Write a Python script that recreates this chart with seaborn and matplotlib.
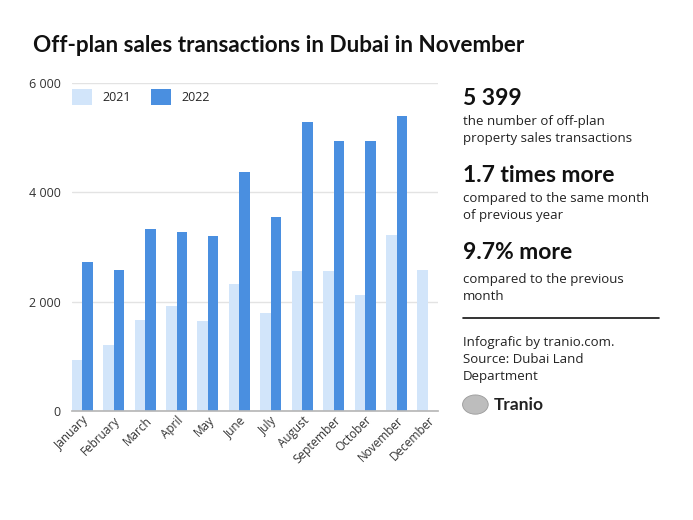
import numpy as np
import pandas as pd
import matplotlib.pyplot as plt
import seaborn as sns
from matplotlib.patches import Patch, Circle

sns.set_theme(style="white")
plt.rcParams['font.family'] = ['Open Sans', 'DejaVu Sans']

# data
months = ['January', 'February', 'March', 'April', 'May', 'June', 'July',
          'August', 'September', 'October', 'November', 'December']
sales_2021 = [930, 1210, 1670, 1915, 1640, 2330, 1790, 2550, 2560, 2120, 3210, 2575]
sales_2022 = [2715, 2575, 3335, 3265, 3195, 4365, 3545, 5275, 4930, 4930, 5399, np.nan]
years = ['2021', '2022']
colors = ['#d2e5fa', '#4a8fe0']

df = pd.DataFrame({
    'month': months * 2,
    'value': sales_2021 + sales_2022,
    'year': ['2021'] * 12 + ['2022'] * 12,
})

fig = plt.figure(figsize=(6.93, 5.2), dpi=100)
ax = fig.add_axes([0.1035, 0.2096, 0.529, 0.6313])

sns.barplot(data=df, x='month', y='value', hue='year', palette=colors,
            width=0.67, gap=0, saturation=1, linewidth=0, ax=ax, legend=False)

ax.set_ylim(0, 6000)
ax.set_xlim(-0.335, 11.33)
ax.set_yticks([0, 2000, 4000, 6000])
ax.set_yticklabels(['0', '2 000', '4 000', '6 000'])
ax.yaxis.grid(True, color='#e3e3e3', linewidth=1)
ax.set_axisbelow(True)
for s in ['top', 'right', 'left']:
    ax.spines[s].set_visible(False)
ax.spines['bottom'].set_color('#b8b8b8')
ax.set_xlabel('')
ax.set_ylabel('')
ax.tick_params(axis='y', length=0, labelsize=9, labelcolor='#333333', pad=8)
ax.tick_params(axis='x', length=0, labelsize=8.5, labelcolor='#333333', pad=2)
plt.setp(ax.get_xticklabels(), rotation=45, ha='right', rotation_mode='anchor')

handles = [Patch(facecolor=c, edgecolor='none') for c in colors]
ax.legend(handles, years, loc='upper left', bbox_to_anchor=(0.0, 0.981), ncol=2,
          frameon=False, fontsize=9, handlelength=1.65, handleheight=1.65,
          columnspacing=1.6, handletextpad=0.8, borderaxespad=0, borderpad=0)

bold = ['Lato', 'DejaVu Sans']
fig.text(0.048, 0.913, 'Off-plan sales transactions in Dubai in November',
         fontsize=16.2, fontweight='bold', family=bold, color='#111111', va='center')

# side panel
x0 = 0.668
fig.text(x0, 0.811, '5 399', fontsize=16.5, fontweight='bold', family=bold, color='#111111', va='center')
fig.text(x0, 0.75, 'the number of off-plan\nproperty sales transactions',
         fontsize=9.5, color='#222222', va='center', linespacing=1.4)
fig.text(x0, 0.663, '1.7 times more', fontsize=16.5, fontweight='bold', family=bold, color='#111111', va='center')
fig.text(x0, 0.601, 'compared to the same month\nof previous year',
         fontsize=9.5, color='#222222', va='center', linespacing=1.4)
fig.text(x0, 0.514, '9.7% more', fontsize=16.5, fontweight='bold', family=bold, color='#111111', va='center')
fig.text(x0, 0.447, 'compared to the previous\nmonth',
         fontsize=9.5, color='#222222', va='center', linespacing=1.4)
fig.add_artist(plt.Line2D([x0, 0.951], [0.388, 0.388], color='#111111', linewidth=1.2))
fig.text(x0, 0.309, 'Infografic by tranio.com.\nSource: Dubai Land\nDepartment',
         fontsize=9.5, color='#222222', va='center', linespacing=1.4)
fig.add_artist(Circle((0.686, 0.222), 0.0185, transform=fig.transFigure,
                      facecolor='#bdbdbd', edgecolor='#9a9a9a', linewidth=0.6))
fig.text(0.713, 0.222, 'Tranio', fontsize=12.5, fontweight='bold', family=bold, color='#222222', va='center')

fig.savefig('out.png', dpi=100)
